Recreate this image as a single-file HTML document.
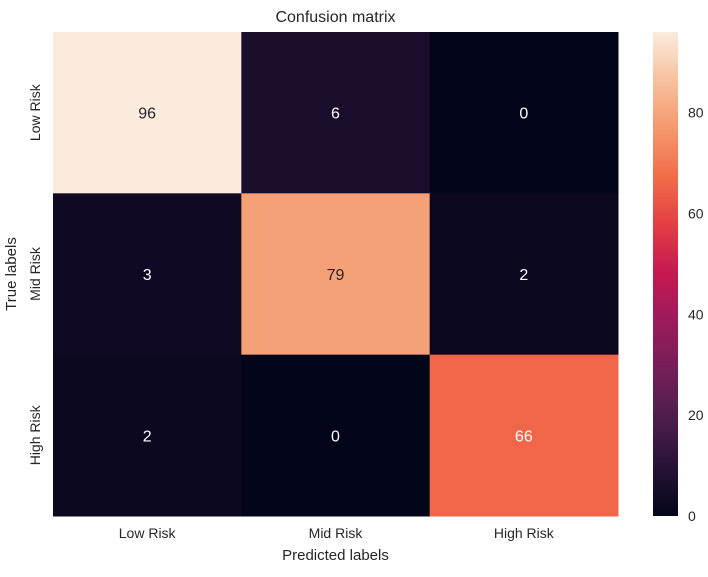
<!DOCTYPE html>
<html><head><meta charset="utf-8"><style>
body{margin:0;background:#fff;font-family:"Liberation Sans",Arial,sans-serif;}
svg text{font-family:"Liberation Sans",Arial,sans-serif;}
</style></head><body>
<svg id="chart" width="708" height="572"></svg>
<script>
const rowLabels=["Low Risk","Mid Risk","High Risk"];
const colLabels=["Low Risk","Mid Risk","High Risk"];
const row0=[96,6,0];
const row1=[3,79,2];
const row2=[2,0,66];
const cbTicks=[0,20,40,60,80];
const values=[row0,row1,row2];
const vmin=0,vmax=96;
const L=53,T=32,R=618,B=516;
const cw=(R-L)/3,ch=(B-T)/3;
const stops=[[3,5,26],[40,18,54],[76,29,75],[115,31,88],[155,27,92],[196,24,82],[228,61,68],[241,108,73],[245,152,108],[247,192,158],[250,235,221]];
function cmap(v){let t=(v-vmin)/(vmax-vmin);t=Math.max(0,Math.min(1,t));const p=t*10,i=Math.min(9,Math.floor(p)),f=p-i;const a=stops[i],b=stops[i+1];
return `rgb(${a.map((x,k)=>Math.round(x+(b[k]-x)*f)).join(',')})`;}
function lum(v){let t=(v-vmin)/(vmax-vmin);return t>0.72;}
const svg=document.getElementById('chart');const NS="http://www.w3.org/2000/svg";
function el(tag,attrs,txt){const e=document.createElementNS(NS,tag);for(const k in attrs)e.setAttribute(k,attrs[k]);if(txt!==undefined)e.textContent=txt;svg.appendChild(e);return e;}
const xs=j=>L+j*cw, ys=i=>T+i*ch;
values.forEach((row,i)=>row.forEach((v,j)=>{
 const r=el('rect',{x:xs(j),y:ys(i),width:cw+0.5,height:ch+0.5,fill:cmap(v)});
 
 
 const t=el('text',{x:xs(j)+cw/2,y:ys(i)+ch/2+6,'text-anchor':'middle','font-size':16,fill:lum(v)?'#262626':'#fff'},v);
 
 
}));
colLabels.forEach((c,j)=>{const t=el('text',{x:xs(j)+cw/2,y:538,'text-anchor':'middle','font-size':14,fill:'#262626'},c);
 
 });
rowLabels.forEach((c,i)=>{const cx=40,cy=ys(i)+ch/2;const t=el('text',{x:cx,y:cy,'text-anchor':'middle','font-size':14,fill:'#262626',transform:`rotate(-90 ${cx} ${cy})`},c);
 
 });
let t=el('text',{x:(L+R)/2,y:22,'text-anchor':'middle','font-size':16,fill:'#262626'},'Confusion matrix');


t=el('text',{x:(L+R)/2,y:560,'text-anchor':'middle','font-size':15,fill:'#262626'},'Predicted labels');


t=el('text',{x:16,y:(T+B)/2,'text-anchor':'middle','font-size':15,fill:'#262626',transform:`rotate(-90 16 ${(T+B)/2})`},'True labels');


// colorbar
const cbL=653,cbW=25;
const defs=document.createElementNS(NS,'defs');svg.appendChild(defs);
const g=document.createElementNS(NS,'linearGradient');g.setAttribute('id','cbg');g.setAttribute('x1','0');g.setAttribute('y1','1');g.setAttribute('x2','0');g.setAttribute('y2','0');defs.appendChild(g);
for(let k=0;k<=20;k++){const s=document.createElementNS(NS,'stop');s.setAttribute('offset',k/20);s.setAttribute('stop-color',cmap(vmin+(vmax-vmin)*k/20));g.appendChild(s);}
const cb=el('rect',{x:cbL,y:T,width:cbW,height:B-T,fill:'url(#cbg)'});


const cy=v=>B-(v-vmin)/(vmax-vmin)*(B-T);
cbTicks.forEach(v=>{const tt=el('text',{x:cbL+cbW+10,y:cy(v)+5,'font-size':14,fill:'#262626'},v);
 
 });
</script>
</body></html>
